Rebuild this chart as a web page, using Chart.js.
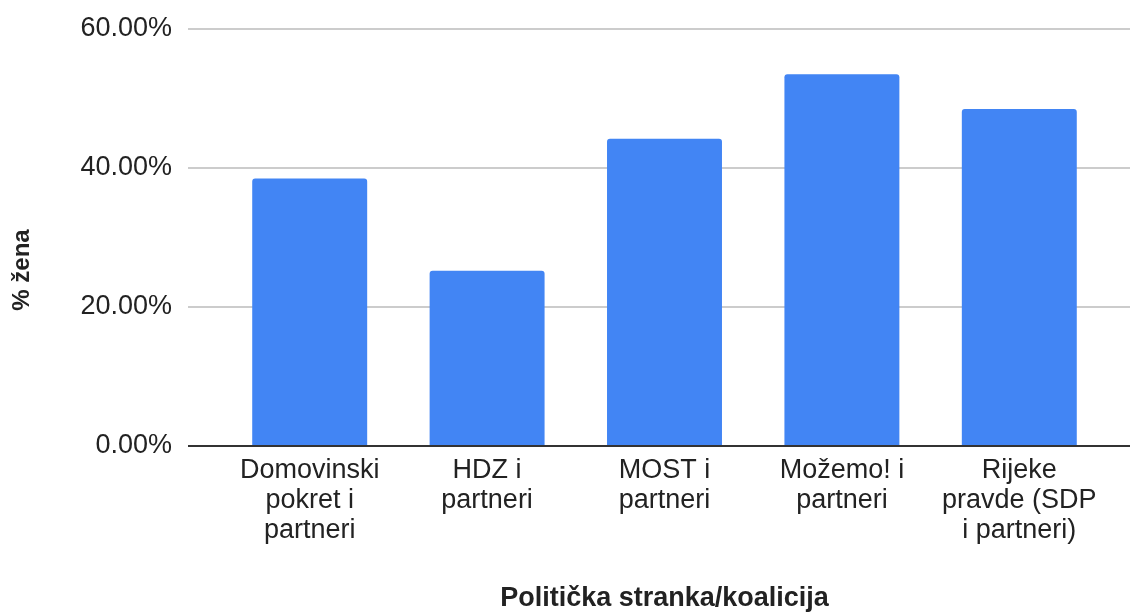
<!DOCTYPE html>
<html>
<head>
<meta charset="utf-8">
<script src="https://cdn.jsdelivr.net/npm/chart.js@4"></script>
<style>
html,body{margin:0;padding:0;background:#fff;}
#wrap{width:1130px;height:613px;position:relative;}
</style>
</head>
<body>
<div id="wrap"><canvas id="c" width="1130" height="613"></canvas></div>
<script>
const categories = [
  ["Domovinski", "pokret i", "partneri"],
  ["HDZ i", "partneri"],
  ["MOST i", "partneri"],
  ["Možemo! i", "partneri"],
  ["Rijeke", "pravde (SDP", "i partneri)"]
];
const womenShare = [38.5, 25.2, 44.2, 53.5, 48.5];
const yTicks = [0, 20, 40, 60];
const xTitle = "Politička stranka/koalicija";
const yTitle = "% žena";

const FONT = "'Liberation Sans', Arial, sans-serif";

const gridPlugin = {
  id: 'gridPlugin',
  beforeDatasetsDraw(chart) {
    const y = chart.scales.y, ctx = chart.ctx;
    ctx.save();
    ctx.strokeStyle = '#cccccc';
    ctx.lineWidth = 2;
    yTicks.forEach(v => {
      if (v === 0) return;
      const py = Math.round(y.getPixelForValue(v));
      ctx.beginPath();
      ctx.moveTo(188, py);
      ctx.lineTo(1130, py);
      ctx.stroke();
    });
    ctx.restore();
  },
  afterDatasetsDraw(chart) {
    const y = chart.scales.y, ctx = chart.ctx;
    ctx.save();
    ctx.strokeStyle = '#333333';
    ctx.lineWidth = 2;
    const py = Math.round(y.getPixelForValue(0));
    ctx.beginPath();
    ctx.moveTo(188, py);
    ctx.lineTo(1130, py);
    ctx.stroke();
    ctx.fillStyle = '#222222';
    ctx.font = "bold 24px " + FONT;
    ctx.textAlign = 'center';
    ctx.textBaseline = 'middle';
    ctx.translate(22, 270);
    ctx.rotate(-Math.PI / 2);
    ctx.fillText(yTitle, 0, 0);
    ctx.restore();
  }
};

new Chart(document.getElementById('c'), {
  type: 'bar',
  data: {
    labels: categories,
    datasets: [{
      data: womenShare,
      backgroundColor: '#4285F4',
      borderRadius: {topLeft: 3, topRight: 3, bottomLeft: 0, bottomRight: 0},
      borderSkipped: 'start',
      categoryPercentage: 1,
      barPercentage: 0.648
    }]
  },
  options: {
    responsive: false,
    animation: false,
    devicePixelRatio: 1,
    layout: {padding: {top: 29, right: 22, left: 0, bottom: 0}},
    plugins: {legend: {display: false}, tooltip: {enabled: false}},
    scales: {
      x: {
        offset: true,
        grid: {display: false, drawTicks: false},
        border: {display: false},
        ticks: {
          color: '#222222',
          font: {family: FONT, size: 27, lineHeight: 1.1},
          padding: 10,
          maxRotation: 0,
          autoSkip: false
        },
        title: {
          display: true,
          text: xTitle,
          color: '#222222',
          font: {family: FONT, size: 27, weight: 'bold', lineHeight: 1},
          padding: {top: 0, bottom: 1}
        },
        afterFit(scale) { scale.height = 167; }
      },
      y: {
        min: 0,
        max: 60,
        afterBuildTicks(scale) { scale.ticks = yTicks.map(v => ({value: v})); },
        grid: {display: true, drawOnChartArea: false, drawTicks: true, tickLength: 49, tickColor: 'rgba(0,0,0,0)'},
        border: {display: false},
        ticks: {
          color: '#222222',
          font: {family: FONT, size: 27},
          padding: 0,
          callback: v => v.toFixed(2) + '%'
        },
        afterFit(scale) { scale.width = 221; }
      }
    }
  },
  plugins: [gridPlugin]
});
</script>
</body>
</html>
